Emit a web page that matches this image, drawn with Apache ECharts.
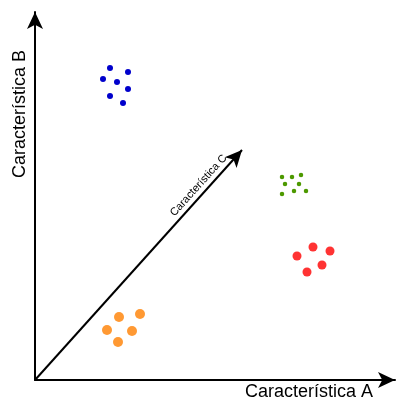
<!DOCTYPE html>
<html>
<head>
<meta charset="utf-8">
<script src="https://cdn.jsdelivr.net/npm/echarts@6/dist/echarts.min.js"></script>
<style>html,body{margin:0;padding:0;background:#fff;}#c{width:396px;height:399px;}</style>
</head>
<body>
<div id="c"></div>
<script>
const axisNames = ['Característica A', 'Característica B', 'Característica C'];
const blueData = [[75,312],[93,308],[68,301],[82,298],[93,291],[75,284],[88,277]];
const greenData = [[247,203],[257,203],[266,205],[250,196],[264,196],[247,186],[259,189],[271,189]];
const redData = [[278,133],[295,129],[262,124],[287,115],[272,108]];
const orangeData = [[84,63],[105,66],[72,50],[97,49],[83,38]];
const diagonalStart = [0, 0];
const diagonalEnd = [207, 230];
const xRange = [0, 360];
const yRange = [0, 368];

const chart = echarts.init(document.getElementById('c'), null, {renderer: 'canvas'});
const font = 'Liberation Sans, Arial, Helvetica, sans-serif';
const axisCommon = {
  type: 'value',
  axisTick: {show: false},
  axisLabel: {show: false},
  splitLine: {show: false},
  axisLine: {show: true, onZero: false, symbol: ['none', 'arrow'], symbolSize: [12, 17], lineStyle: {color: '#000', width: 2}}
};
function sc(name, data, color, size) {
  return {type: 'scatter', name, data, symbolSize: size, itemStyle: {color, opacity: 1}, silent: true};
}
chart.setOption({
  animation: false,
  backgroundColor: '#fff',
  grid: {left: 35, right: 1, top: 12, bottom: 19},
  xAxis: Object.assign({}, axisCommon, {min: xRange[0], max: xRange[1]}),
  yAxis: Object.assign({}, axisCommon, {min: yRange[0], max: yRange[1]}),
  graphic: [
    {type: 'text', x: 373, y: 392, style: {text: axisNames[0], font: '18px ' + font, fill: '#000', align: 'right', verticalAlign: 'middle'}},
    {type: 'text', x: 20, y: 114, rotation: Math.PI / 2, style: {text: axisNames[1], font: '18px ' + font, fill: '#000', align: 'center', verticalAlign: 'middle'}}
  ],
  series: [
    {
      type: 'line', data: [], silent: true,
      markLine: {
        silent: true,
        symbol: ['none', 'arrow'],
        symbolSize: [12, 17],
        lineStyle: {color: '#000', width: 2, type: 'solid'},
        label: {show: true, position: 'insideEndTop', formatter: axisNames[2], fontSize: 11, fontFamily: font, color: '#000', distance: [16, 3]},
        data: [[{coord: diagonalStart}, {coord: diagonalEnd}]]
      }
    },
    sc('blue', blueData, '#0000CC', 6),
    sc('green', greenData, '#4D9900', 4.5),
    sc('red', redData, '#FF3333', 9),
    sc('orange', orangeData, '#FF9933', 10)
  ]
});
</script>
</body>
</html>
